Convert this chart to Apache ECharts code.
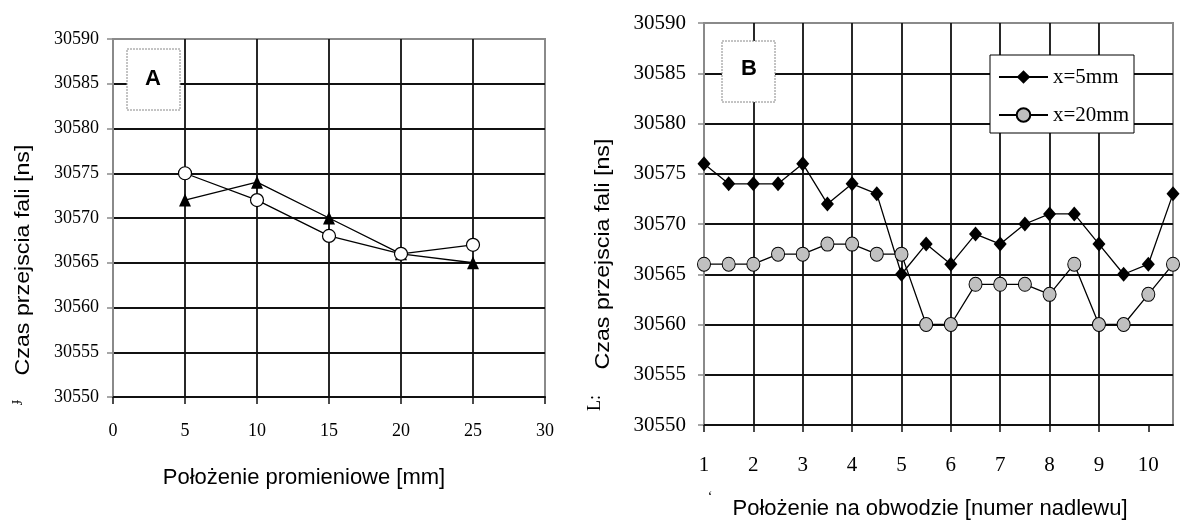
<!DOCTYPE html>
<html>
<head>
<meta charset="utf-8">
<script src="https://cdn.jsdelivr.net/npm/echarts@6/dist/echarts.min.js"></script>
<style>
  html, body { margin: 0; padding: 0; background: #fff; }
  #chart { width: 1182px; height: 520px; }
</style>
</head>
<body>
<div id="chart"></div>
<script>
// wykres A - polozenie promieniowe
const posA = [5, 10, 15, 20, 25];
const triA = [30572, 30574, 30570, 30566, 30565];
const circA = [30575, 30572, 30568, 30566, 30567];

// wykres B - polozenie na obwodzie
const posB = [1, 1.5, 2, 2.5, 3, 3.5, 4, 4.5, 5, 5.5, 6, 6.5, 7, 7.5, 8, 8.5, 9, 9.5, 10, 10.5];
const x5mm = [30576, 30574, 30574, 30574, 30576, 30572, 30574, 30573, 30565, 30568,
              30566, 30569, 30568, 30570, 30571, 30571, 30568, 30565, 30566, 30573];
const x20mm = [30566, 30566, 30566, 30567, 30567, 30568, 30568, 30567, 30567, 30560,
               30560, 30564, 30564, 30564, 30563, 30566, 30560, 30560, 30563, 30566];
const ticksB = [1, 2, 3, 4, 5, 6, 7, 8, 9, 10];

const yTitle = 'Czas przejscia fali [ns]';
const SERIF = 'Liberation Serif';

const pairs = (xs, ys) => xs.map((x, i) => [x, ys[i]]);

function yAxisFor(gridIndex, fontSize, margin) {
  return {
    type: 'value', gridIndex: gridIndex,
    min: 30550, max: 30590, interval: 5,
    axisLine: { show: true, lineStyle: { color: '#8a8a8a', width: 2 } },
    axisTick: { show: true, length: 6, lineStyle: { color: '#8a8a8a', width: 1.5 } },
    axisLabel: { fontFamily: SERIF, fontSize: fontSize, color: '#000', margin: margin,
                 formatter: v => String(v) },
    splitLine: { show: true, showMinLine: false, showMaxLine: false, lineStyle: { color: '#111', width: 1.8 } }
  };
}

const chart = echarts.init(document.getElementById('chart'));

const option = {
  animation: false,
  backgroundColor: '#fff',
  textStyle: { fontFamily: SERIF },
  grid: [
    { left: 113, top: 39, width: 432, height: 358, show: true, borderColor: '#8a8a8a', borderWidth: 2 },
    { left: 704, top: 23, width: 469, height: 402, show: true, borderColor: '#8a8a8a', borderWidth: 2 }
  ],
  xAxis: [
    {
      type: 'value', gridIndex: 0, min: 0, max: 30, interval: 5,
      axisLine: { show: true, lineStyle: { color: '#111', width: 2 } },
      axisTick: { show: true, length: 7, lineStyle: { color: '#111', width: 1.5 } },
      axisLabel: { fontFamily: SERIF, fontSize: 18, color: '#000', margin: 25 },
      splitLine: { show: true, showMinLine: false, showMaxLine: false, lineStyle: { color: '#111', width: 1.8 } }
    },
    {
      type: 'value', gridIndex: 1, min: 1, max: 10.5, interval: 1,
      axisLine: { show: true, lineStyle: { color: '#111', width: 2 } },
      axisTick: { show: true, length: 7, customValues: ticksB, lineStyle: { color: '#111', width: 1.5 } },
      axisLabel: { fontFamily: SERIF, fontSize: 21, color: '#000', margin: 30, customValues: ticksB },
      splitLine: { show: true, showMinLine: false, showMaxLine: false, lineStyle: { color: '#111', width: 1.8 } }
    }
  ],
  yAxis: [yAxisFor(0, 18, 14), yAxisFor(1, 21, 18)],
  legend: {
    data: ['x=5mm', 'x=20mm'],
    orient: 'vertical',
    left: 990, top: 55,
    itemWidth: 49, itemHeight: 17, itemGap: 14,
    padding: [10, 5, 6, 8],
    backgroundColor: '#fff',
    borderColor: '#000', borderWidth: 1,
    textStyle: { fontFamily: SERIF, fontSize: 21, color: '#000', lineHeight: 24 }
  },
  series: [
    {
      name: 'A x=5mm', type: 'line', xAxisIndex: 0, yAxisIndex: 0,
      data: pairs(posA, triA),
      symbol: 'triangle', symbolSize: [12, 13],
      lineStyle: { color: '#000', width: 1.3 },
      itemStyle: { color: '#000' }, z: 3
    },
    {
      name: 'A x=20mm', type: 'line', xAxisIndex: 0, yAxisIndex: 0,
      data: pairs(posA, circA),
      symbol: 'circle', symbolSize: 13,
      lineStyle: { color: '#000', width: 1.3 },
      itemStyle: { color: '#fff', borderColor: '#000', borderWidth: 1.2 }, z: 4
    },
    {
      name: 'x=5mm', type: 'line', xAxisIndex: 1, yAxisIndex: 1,
      data: pairs(posB, x5mm),
      symbol: 'diamond', symbolSize: [13, 15],
      lineStyle: { color: '#000', width: 1.3 },
      itemStyle: { color: '#000' }, z: 3
    },
    {
      name: 'x=20mm', type: 'line', xAxisIndex: 1, yAxisIndex: 1,
      data: pairs(posB, x20mm),
      symbol: 'circle', symbolSize: [13, 14],
      lineStyle: { color: '#000', width: 1.3 },
      itemStyle: { color: '#c0c0c0', borderColor: '#000', borderWidth: 1 }, z: 4
    }
  ],
  graphic: [
    // ramki z literami
    { type: 'rect', shape: { x: 127, y: 49, width: 53, height: 61 },
      style: { fill: '#fff', stroke: '#888', lineWidth: 1, lineDash: [2, 1] }, z: 10 },
    { type: 'text', x: 153, y: 79, style: { text: 'A', font: 'bold 22px "Liberation Sans"', fill: '#000', align: 'center', verticalAlign: 'middle' }, z: 11 },
    { type: 'rect', shape: { x: 722, y: 41, width: 53, height: 61 },
      style: { fill: '#fff', stroke: '#888', lineWidth: 1, lineDash: [2, 1] }, z: 10 },
    { type: 'text', x: 749, y: 69, style: { text: 'B', font: 'bold 22px "Liberation Sans"', fill: '#000', align: 'center', verticalAlign: 'middle' }, z: 11 },
    // tytuly osi
    { type: 'text', x: 23, y: 260, rotation: Math.PI / 2, scaleX: 1.16,
      style: { text: yTitle, font: '20px "Liberation Sans"', fill: '#000', align: 'center', verticalAlign: 'middle' } },
    { type: 'text', x: 603, y: 254, rotation: Math.PI / 2, scaleX: 1.16,
      style: { text: yTitle, font: '20px "Liberation Sans"', fill: '#000', align: 'center', verticalAlign: 'middle' } },
    { type: 'text', x: 304, y: 478,
      style: { text: 'Położenie promieniowe [mm]', font: '22px "Liberation Sans"', fill: '#000', align: 'center', verticalAlign: 'middle' } },
    { type: 'text', x: 930, y: 509,
      style: { text: 'Położenie na obwodzie [numer nadlewu]', font: '22px "Liberation Sans"', fill: '#000', align: 'center', verticalAlign: 'middle' } },
    // resztki przycietych znakow
    { type: 'text', x: 15, y: 402, rotation: Math.PI / 2,
      style: { text: 'ɟ', font: '14px "Liberation Serif"', fill: '#000', align: 'center', verticalAlign: 'middle' } },
    { type: 'text', x: 595, y: 403, rotation: Math.PI / 2,
      style: { text: 'L:', font: '18px "Liberation Serif"', fill: '#000', align: 'center', verticalAlign: 'middle' } },
    { type: 'text', x: 710, y: 497,
      style: { text: '‘', font: '14px "Liberation Serif"', fill: '#000', align: 'center', verticalAlign: 'middle' } }
  ]
};

chart.setOption(option);
</script>
</body>
</html>
